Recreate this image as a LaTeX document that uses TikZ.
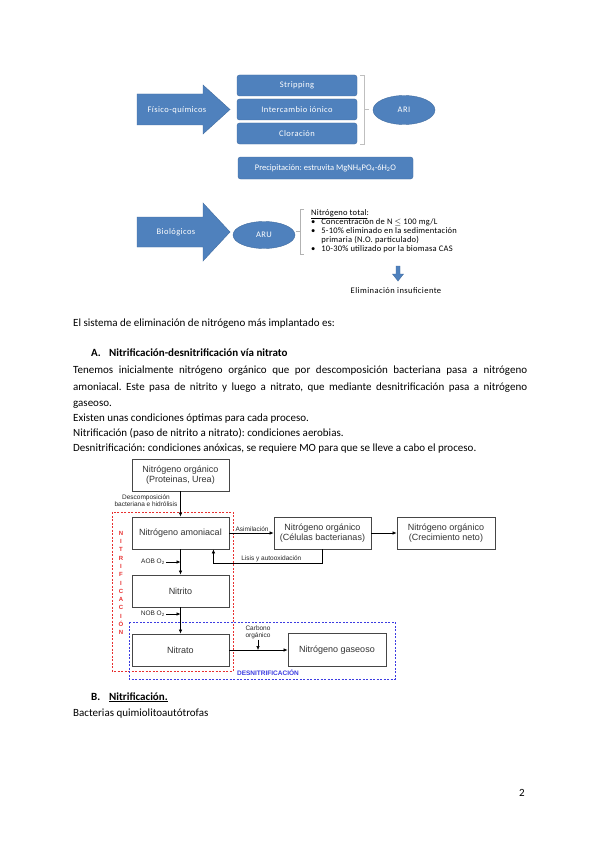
\documentclass[tikz,border=0pt]{standalone}
\usepackage{fontspec}
\setmainfont{Carlito}
\newfontfamily\widefont[LetterSpace=5]{Carlito}
\newfontfamily\notewide[LetterSpace=2.5]{Carlito}
\newfontfamily\arialfont{Liberation Sans}
\usepackage{tikz}
\usetikzlibrary{arrows.meta, positioning, shapes.geometric}
\definecolor{OffBlue} {RGB}{ 79,129,189}
\definecolor{OffEdge} {RGB}{ 65,108,160}
\definecolor{NitRed}  {RGB}{232, 48, 48}
\definecolor{DenBlue} {RGB}{ 60, 60,225}
\definecolor{BoxGray} {RGB}{ 70, 70, 70}
\newcommand{\techfont}{\widefont\fontsize{8.5}{8.75}\selectfont}
\newcommand{\listfont}{\notewide\fontsize{8.5}{8.75}\selectfont}
\newcommand{\flowfont}{\arialfont\fontsize{9}{10}\selectfont}
\newcommand{\notefont}{\arialfont\fontsize{6.5}{7}\selectfont}
\newcommand{\bodyfont}{\fontsize{11}{13}\selectfont}
\frenchspacing

\begin{document}
\begin{tikzpicture}[x=1pt, y=-1pt,
  tech/.style={draw=OffEdge, fill=OffBlue, rounded corners=2.5pt, text=white,
               font=\techfont, minimum width=120pt, minimum height=21pt, inner sep=0pt},
  oval/.style={ellipse, draw=OffEdge, fill=OffBlue, text=white, font=\techfont,
               minimum width=62pt, minimum height=29pt, inner sep=0pt},
  bigarrow/.style={draw=OffEdge, fill=OffBlue},
  flow/.style={draw=BoxGray, line width=0.9pt, align=center, font=\flowfont,
               text=black!80, minimum width=97pt, minimum height=32pt, inner sep=1pt},
  lbl/.style={font=\notefont, inner sep=1pt, align=center, text=black!85},
  arr/.style={-{Latex[length=4pt,width=3.6pt]}, line width=0.6pt},
  body/.style={anchor=base west, inner sep=0pt, font=\bodyfont},
  zone/.style={dash pattern=on 2pt off 1.5pt, line width=0.7pt}
]
  \fill[white] (0,0) rectangle (600,848);
  \useasboundingbox (0,0) rectangle (600,848);

  % fisico-quimicos
  \filldraw[bigarrow] (137,94) -- (203,94) -- (203,85) -- (230,109.5)
    -- (203,134) -- (203,125) -- (137,125) -- cycle;
  \node[font=\techfont, text=white] (fq) at (177,110) {Físico-químicos};
  \node[tech] (strip) at (297,85.5)  {Stripping};
  \node[tech] (inter) at (297,109.5) {Intercambio iónico};
  \node[tech] (clor)  at (297,133.5) {Cloración};
  \draw[gray!50] ([xshift=3pt]strip.north east) -- ++(4,0) |- ([xshift=3pt]clor.south east);
  \draw[gray!50] ([xshift=7pt]inter.east) -- ++(5,0);
  \node[oval] (ari) at (404,110) {ARI};
  \node[tech, font=\fontsize{8.5}{9}\selectfont, minimum width=175pt, minimum height=22pt]
    (prec) at (325.5,168)
    {Precipitación: estruvita MgNH\textsubscript{4}PO\textsubscript{4}·6H\textsubscript{2}O};

  % biologicos
  \filldraw[bigarrow] (137,217) -- (203,217) -- (203,203) -- (230,232)
    -- (203,261) -- (203,247) -- (137,247) -- cycle;
  \node[font=\techfont, text=white] (bio) at (176,232) {Biológicos};
  \node[oval, minimum height=27pt] (aru) at (264,235) {ARU};
  \node[anchor=north west, inner sep=0pt, font=\listfont] (ntot) at (311,209)
    {\begin{tabular}{@{}l@{\hspace{6pt}}l@{}}
      \multicolumn{2}{@{}l}{\underline{Nitrógeno total}:}\\
      \textbullet & Concentración de N \ensuremath{\leq} 100 mg/L\\
      \textbullet & 5-10\% eliminado en la sedimentación\\
                  & primaria (N.O. particulado)\\
      \textbullet & 10-30\% utilizado por la biomasa CAS
    \end{tabular}};
  \draw[gray!60] ([xshift=-7pt]ntot.north west) -- ([xshift=-11pt]ntot.north west)
    -- ([xshift=-11pt]ntot.south west) -- ([xshift=-7pt]ntot.south west);
  \draw[gray!60] ([xshift=-11pt]ntot.west) -- ++(-4,0);
  \filldraw[bigarrow] (396,266) -- (400,266) -- (400,274) -- (403.5,274)
    -- (398,281) -- (392.5,274) -- (396,274) -- cycle;
  \node[font=\techfont] (elim) at (396,291) {Eliminación insuficiente};

  % texto
  \node[body] (intro) at (73,326) {El sistema de eliminación de nitrógeno más implantado es:};
  \node[body, font=\bodyfont\bfseries] (alabel) at (91,356) {A.};
  \node[body, font=\bodyfont\bfseries] (ahead) at (109,356) {Nitrificación-desnitrificación vía nitrato};
  \node[body] (par1) at (73,373) {\makebox[454pt][s]{Tenemos inicialmente nitrógeno orgánico que por descomposición bacteriana pasa a nitrógeno}};
  \node[body] (par2) at (73,390) {\makebox[454pt][s]{amoniacal. Este pasa de nitrito y luego a nitrato, que mediante desnitrificación pasa a nitrógeno}};
  \node[body] (par3) at (73,406) {gaseoso.};
  \node[body] (cond) at (73,421) {Existen unas condiciones óptimas para cada proceso.};
  \node[body] (nitr) at (73,436) {Nitrificación (paso de nitrito a nitrato): condiciones aerobias.};
  \node[body] (desn) at (73,451) {Desnitrificación: condiciones anóxicas, se requiere MO para que se lleve a cabo el proceso.};

  % esquema nitrificacion-desnitrificacion
  \draw[zone, NitRed]  (112,512) rectangle (233,671);
  \draw[zone, DenBlue] (129,622) rectangle (395,679);
  \node[flow] (org)     at (180.5,475) {Nitrógeno orgánico\\(Proteinas, Urea)};
  \node[flow] (amon)    at (180.5,533) {Nitrógeno amoniacal};
  \node[flow] (cel)     at (322.5,533) {Nitrógeno orgánico\\(Células bacterianas)};
  \node[flow, minimum width=98pt] (neto) at (446,533) {Nitrógeno orgánico\\(Crecimiento neto)};
  \node[flow] (nitrito) at (180.5,591) {Nitrito};
  \node[flow] (nitrato) at (180.5,650) {Nitrato};
  \node[flow, minimum width=98pt, minimum height=33pt] (gas) at (337,650) {Nitrógeno gaseoso};

  \draw[arr] (org) -- (amon);
  \node[lbl] (desc) at (146,500.5) {Descomposición\\bacteriana e hidrólisis};
  \draw[arr] (amon) -- (cel);
  \node[lbl, anchor=south west] (asim) at ([xshift=5pt]amon.east) {Asimilación};
  \draw[arr] (cel) -- (neto);
  \draw[arr] (cel.south) -- ++(0,14) coordinate (lis) -| ([xshift=-16pt]amon.south east);
  \node[lbl, anchor=south east] (lisis) at ([xshift=-20pt]lis) {Lisis y autooxidación};
  \draw[arr] (amon) -- (nitrito);
  \node[lbl, anchor=east] (aob) at (166,562) {AOB O\textsubscript{2}};
  \draw[arr] (aob.east) -- (aob.east -| amon.south);
  \draw[arr] (nitrito) -- (nitrato);
  \node[lbl, anchor=east] (nob) at (166,614) {NOB O\textsubscript{2}};
  \draw[arr] (nob.east) -- (nob.east -| nitrato.north);
  \draw[arr] (nitrato) -- (gas);
  \node[lbl] (carb) at (258,632) {Carbono\\orgánico};
  \draw[arr] (carb.south) -- (carb.south |- nitrato.east);
  \node[lbl, font=\arialfont\fontsize{6}{8.3}\selectfont\bfseries, text=NitRed] (nitlbl) at (121,583)
    {N\\I\\T\\R\\I\\F\\I\\C\\A\\C\\I\\Ó\\N};
  \node[lbl, font=\notefont\bfseries, text=DenBlue] (denlbl) at (268,673) {DESNITRIFICACIÓN};

  % apartado B
  \node[body, font=\bodyfont\bfseries] (blabel) at (91,700) {B.};
  \node[body, font=\bodyfont\bfseries] (bhead) at (109,700) {\underline{Nitrificación.}};
  \node[body] (bact) at (73,716) {Bacterias quimiolitoautótrofas};
  \node[body] (pagenum) at (519,796) {2};
\end{tikzpicture}
\end{document}
